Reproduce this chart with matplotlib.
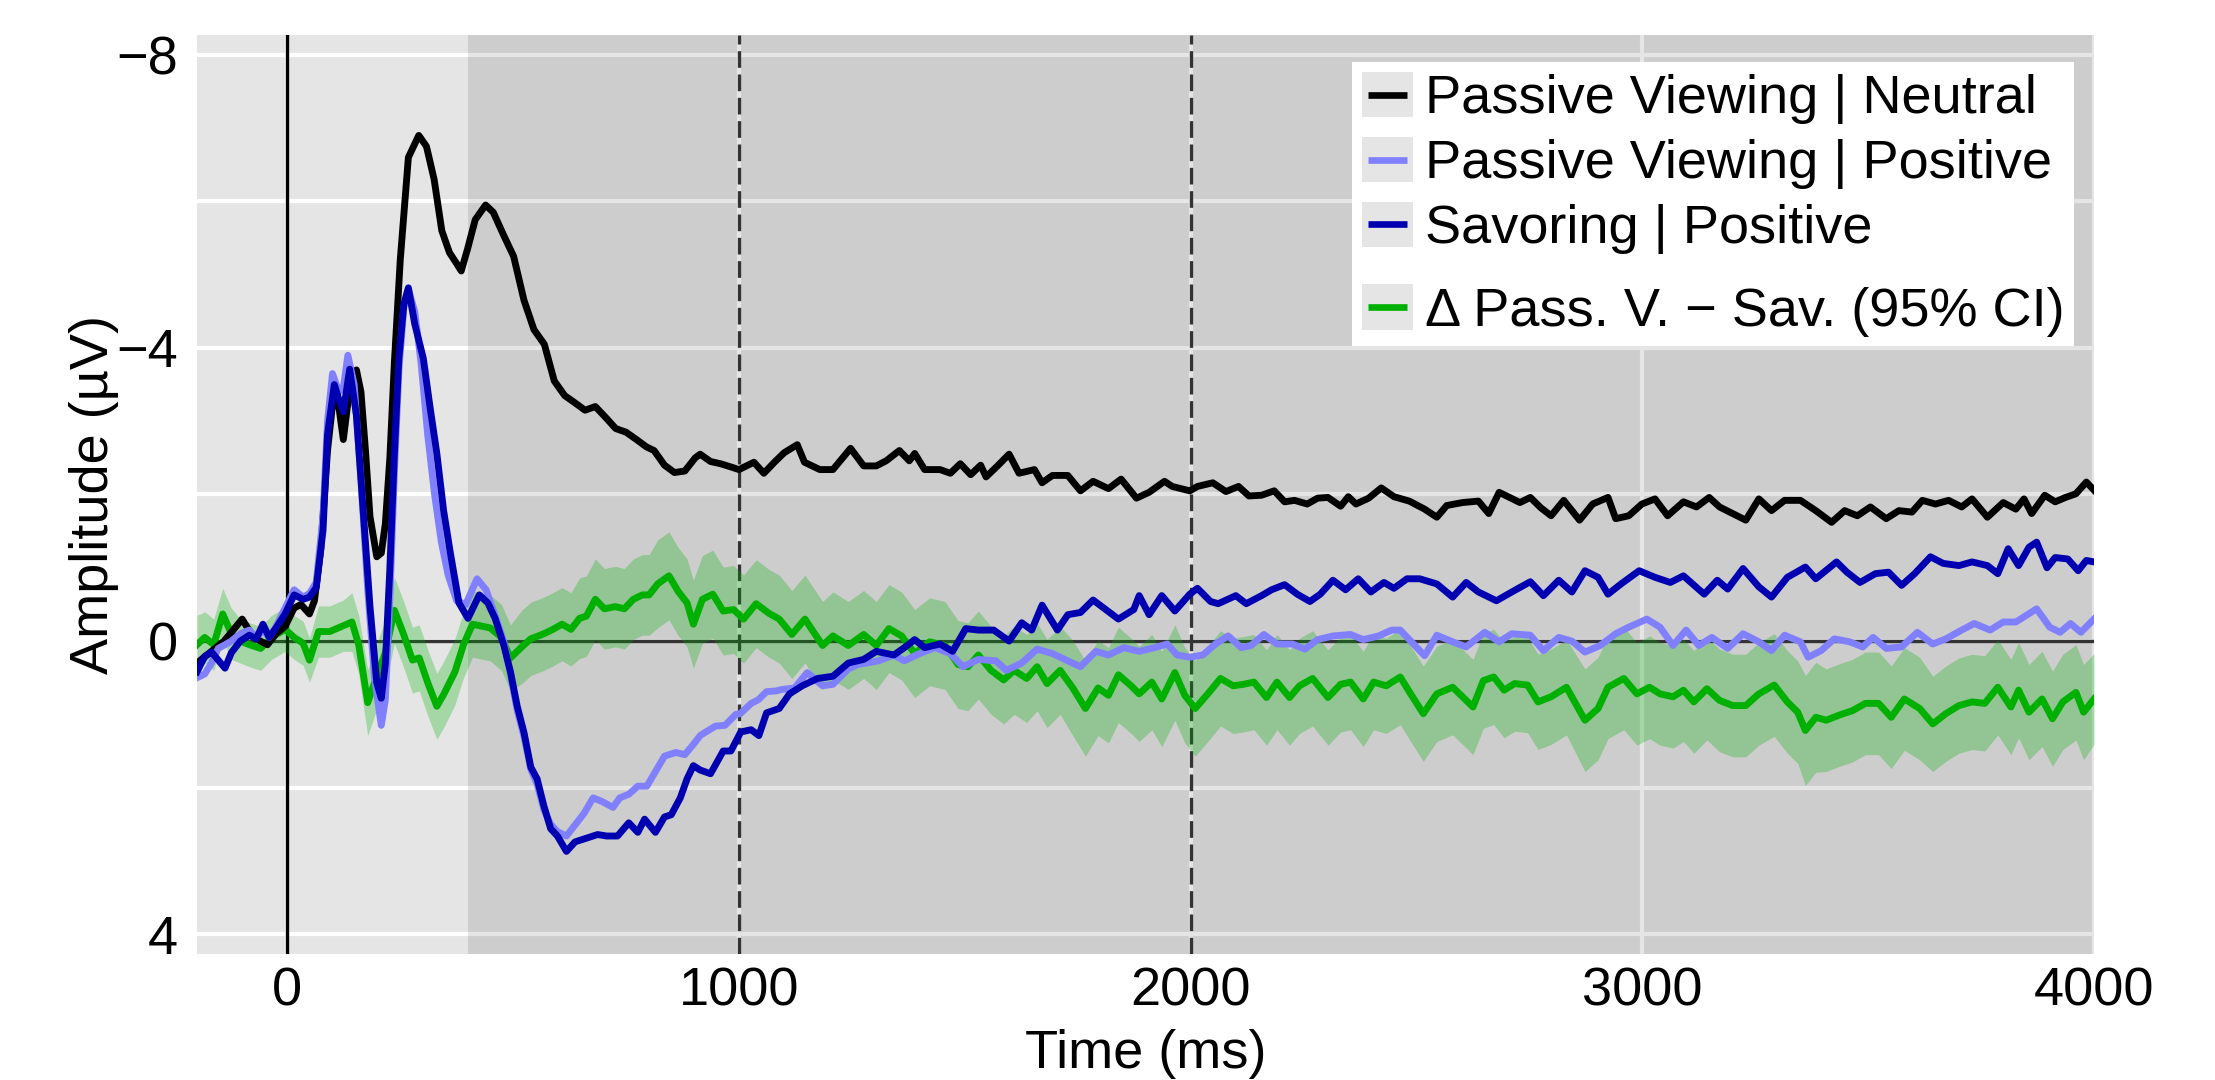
import numpy as np
import matplotlib
matplotlib.use("Agg")
import matplotlib.pyplot as plt
from matplotlib.lines import Line2D
from matplotlib.patches import Rectangle
from matplotlib.legend_handler import HandlerBase
from matplotlib.offsetbox import DrawingArea
from matplotlib.ticker import MultipleLocator

plt.rcParams['font.family'] = ['Liberation Sans', 'DejaVu Sans']
plt.rcParams['font.size'] = 13

# ---------------- data (time in ms, amplitude in microvolts) ----------------
pv_neutral = [
(-200,0.30),(-180,0.20),(-160,0.10),(-140,0.00),(-120,-0.15),(-100,-0.30),(-80,-0.10),(-60,0.00),(-44,0.05),(-25,-0.10),
(-5,-0.20),(15,-0.45),(30,-0.50),(49,-0.37),(60,-0.55),(74,-1.25),(89,-2.60),(104,-3.45),(114,-3.20),(124,-2.75),
(138,-3.45),(153,-3.70),(163,-3.40),(173,-2.60),(183,-1.70),(198,-1.15),(208,-1.20),(217,-1.60),(227,-2.50),(237,-3.80),
(250,-5.20),(268,-6.60),(291,-6.90),(308,-6.75),(325,-6.30),(342,-5.60),(359,-5.30),(375,-5.15),(385,-5.05),(399,-5.35),
(416,-5.75),(439,-5.95),(456,-5.85),(478,-5.55),(501,-5.25),(524,-4.65),(546,-4.25),(569,-4.05),(591,-3.55),(614,-3.35),
(637,-3.25),(659,-3.15),(682,-3.20),(705,-3.05),(727,-2.90),(750,-2.85),(773,-2.75),(795,-2.65),(812,-2.60),(835,-2.40),
(857,-2.30),(880,-2.32),(903,-2.50),(914,-2.55),(937,-2.45),(959,-2.42),(980,-2.38),(1000,-2.34),(1033,-2.44),(1055,-2.29),
(1080,-2.45),(1100,-2.57),(1129,-2.68),(1145,-2.44),(1179,-2.34),(1208,-2.34),(1247,-2.63),(1276,-2.39),(1304,-2.39),(1326,-2.46),
(1355,-2.60),(1377,-2.46),(1389,-2.56),(1411,-2.34),(1445,-2.34),(1468,-2.29),(1490,-2.42),(1513,-2.27),(1535,-2.40),(1547,-2.24),
(1569,-2.37),(1598,-2.55),(1620,-2.29),(1654,-2.34),(1671,-2.16),(1694,-2.26),(1728,-2.26),(1756,-2.05),(1784,-2.18),(1818,-2.08),
(1846,-2.21),(1880,-1.95),(1908,-2.03),(1942,-2.18),(1959,-2.11),(1998,-2.05),(2015,-2.11),(2049,-2.16),(2078,-2.04),(2106,-2.11),
(2129,-1.98),(2157,-1.99),(2185,-2.05),(2208,-1.90),(2230,-1.92),(2258,-1.87),(2281,-1.95),(2304,-1.96),(2332,-1.84),(2349,-1.97),
(2366,-1.87),(2394,-1.95),(2422,-2.09),(2450,-1.97),(2484,-1.91),(2518,-1.80),(2545,-1.69),(2567,-1.85),(2602,-1.89),(2637,-1.91),
(2660,-1.74),(2683,-2.03),(2706,-1.96),(2729,-1.89),(2752,-1.96),(2775,-1.82),(2798,-1.71),(2826,-1.92),(2861,-1.65),(2890,-1.87),
(2924,-1.96),(2941,-1.67),(2970,-1.71),(2999,-1.87),(3028,-1.94),(3056,-1.71),(3091,-1.90),(3120,-1.83),(3148,-1.96),(3171,-1.83),
(3200,-1.74),(3229,-1.65),(3258,-1.94),(3286,-1.78),(3315,-1.92),(3350,-1.92),(3384,-1.78),(3419,-1.62),(3448,-1.78),(3476,-1.71),
(3505,-1.83),(3540,-1.67),(3568,-1.78),(3597,-1.76),(3620,-1.92),(3649,-1.87),(3678,-1.92),(3707,-1.83),(3730,-1.94),(3764,-1.69),
(3799,-1.89),(3827,-1.80),(3845,-1.94),(3862,-1.74),(3891,-1.99),(3914,-1.90),(3937,-1.96),(3960,-2.01),(3983,-2.17),(4000,-2.06)]

pv_positive = [
(-200,0.50),(-183,0.45),(-168,0.30),(-153,0.10),(-138,0.05),(-124,0.00),(-104,-0.10),(-84,-0.15),(-69,-0.05),(-54,-0.15),
(-40,-0.05),(-25,-0.20),(-5,-0.45),(15,-0.70),(35,-0.60),(49,-0.65),(64,-0.80),(79,-1.70),(89,-3.00),(100,-3.65),
(114,-3.40),(124,-3.45),(134,-3.90),(148,-3.50),(163,-2.20),(178,-0.70),(193,0.50),(208,1.15),(217,0.80),(227,-0.60),
(237,-2.30),(247,-3.70),(258,-4.55),(268,-4.80),(282,-4.50),(296,-3.80),(311,-2.80),(326,-2.00),(341,-1.35),(356,-0.90),
(375,-0.55),(395,-0.50),(420,-0.85),(440,-0.70),(460,-0.35),(479,0.00),(494,0.45),(509,0.95),(524,1.30),(539,1.75),
(553,1.95),(568,2.30),(583,2.50),(598,2.60),(618,2.66),(637,2.51),(657,2.35),(677,2.14),(697,2.19),(721,2.27),
(736,2.14),(756,2.09),(776,1.98),(796,1.98),(815,1.78),(835,1.57),(860,1.52),(880,1.55),(899,1.41),(914,1.29),
(924,1.25),(948,1.16),(969,1.15),(993,1.00),(1003,0.99),(1027,0.85),(1043,0.80),(1061,0.69),(1082,0.68),(1095,0.66),
(1123,0.64),(1151,0.43),(1185,0.61),(1208,0.59),(1242,0.38),(1264,0.32),(1309,0.27),(1343,0.19),(1366,0.27),(1400,0.17),
(1434,0.09),(1468,0.17),(1496,0.35),(1530,0.25),(1569,0.27),(1592,0.40),(1626,0.30),(1660,0.11),(1694,0.17),(1728,0.27),
(1756,0.35),(1790,0.14),(1818,0.19),(1852,0.09),(1886,0.14),(1920,0.09),(1948,0.04),(1970,0.19),(1998,0.22),(2027,0.19),
(2055,0.04),(2083,-0.07),(2112,0.09),(2134,0.06),(2162,-0.09),(2191,0.04),(2225,0.04),(2253,0.11),(2281,-0.02),(2315,-0.07),
(2354,-0.09),(2382,-0.02),(2416,-0.07),(2445,-0.15),(2464,-0.15),(2487,0.00),(2518,0.20),(2545,-0.08),(2580,0.01),(2610,0.08),
(2651,-0.12),(2683,0.01),(2711,-0.10),(2752,-0.08),(2781,0.13),(2815,-0.05),(2844,0.00),(2873,0.15),(2907,0.06),(2941,-0.10),
(2970,-0.19),(3010,-0.30),(3039,-0.19),(3068,0.06),(3097,-0.15),(3125,0.06),(3154,-0.05),(3189,0.10),(3223,-0.10),(3258,0.01),
(3286,0.13),(3315,-0.08),(3350,0.01),(3367,0.22),(3396,0.13),(3425,-0.03),(3459,0.01),(3488,0.08),(3511,-0.05),(3540,0.10),
(3574,0.08),(3609,-0.12),(3643,0.04),(3672,-0.03),(3707,-0.15),(3735,-0.24),(3770,-0.15),(3799,-0.26),(3827,-0.26),(3850,-0.35),
(3873,-0.44),(3902,-0.19),(3925,-0.12),(3948,-0.24),(3971,-0.12),(4000,-0.30)]

sav_positive = [
(-200,0.42),(-183,0.21),(-168,0.15),(-153,0.26),(-138,0.37),(-124,0.16),(-104,0.00),(-84,-0.08),(-69,-0.03),(-54,-0.23),
(-40,-0.05),(-25,-0.18),(-5,-0.37),(15,-0.63),(35,-0.57),(49,-0.60),(64,-0.73),(79,-1.51),(89,-2.82),(104,-3.50),
(114,-3.30),(124,-3.13),(138,-3.71),(153,-3.08),(168,-1.78),(183,-0.47),(198,0.57),(208,0.78),(217,0.31),(227,-0.99),
(237,-2.56),(247,-3.86),(258,-4.60),(268,-4.82),(282,-4.33),(301,-3.86),(316,-3.19),(331,-2.56),(346,-1.78),(361,-1.20),
(380,-0.52),(400,-0.31),(425,-0.63),(444,-0.52),(460,-0.31),(479,0.05),(494,0.42),(509,0.89),(524,1.25),(539,1.72),
(553,1.88),(568,2.25),(583,2.56),(598,2.66),(618,2.87),(637,2.74),(662,2.69),(687,2.64),(707,2.66),(731,2.66),
(756,2.48),(776,2.61),(791,2.43),(815,2.61),(835,2.40),(850,2.37),(870,2.14),(885,1.88),(899,1.70),(914,1.76),
(937,1.81),(965,1.50),(982,1.50),(1004,1.24),(1027,1.21),(1044,1.29),(1061,0.98),(1089,0.92),(1112,0.72),(1140,0.61),
(1174,0.51),(1208,0.48),(1242,0.30),(1276,0.25),(1304,0.14),(1343,0.19),(1366,0.09),(1389,-0.02),(1411,0.09),(1445,0.04),
(1473,0.14),(1502,-0.17),(1530,-0.15),(1564,-0.15),(1598,0.00),(1626,-0.25),(1648,-0.15),(1671,-0.49),(1705,-0.15),(1728,-0.36),
(1756,-0.39),(1784,-0.56),(1812,-0.43),(1840,-0.30),(1874,-0.43),(1886,-0.62),(1908,-0.36),(1936,-0.62),(1965,-0.41),(1998,-0.64),
(2015,-0.72),(2044,-0.54),(2061,-0.51),(2100,-0.62),(2123,-0.51),(2157,-0.62),(2179,-0.70),(2208,-0.77),(2236,-0.64),(2264,-0.54),
(2287,-0.64),(2315,-0.83),(2343,-0.70),(2371,-0.85),(2399,-0.67),(2428,-0.80),(2450,-0.72),(2479,-0.85),(2507,-0.85),(2545,-0.78),
(2580,-0.60),(2610,-0.80),(2637,-0.67),(2677,-0.55),(2711,-0.67),(2752,-0.81),(2781,-0.62),(2815,-0.83),(2844,-0.67),(2873,-0.96),
(2902,-0.87),(2924,-0.64),(2953,-0.78),(2993,-0.96),(3028,-0.87),(3062,-0.80),(3091,-0.89),(3137,-0.64),(3166,-0.83),(3189,-0.71),
(3223,-0.99),(3258,-0.74),(3286,-0.60),(3321,-0.87),(3361,-1.01),(3384,-0.85),(3430,-1.08),(3453,-0.94),(3482,-0.80),(3516,-0.92),
(3545,-0.94),(3574,-0.76),(3603,-0.92),(3638,-1.15),(3666,-1.06),(3701,-1.03),(3730,-1.08),(3764,-1.03),(3787,-0.92),(3810,-1.26),
(3833,-1.03),(3856,-1.28),(3873,-1.35),(3896,-1.00),(3914,-1.14),(3942,-1.12),(3965,-0.96),(3983,-1.10),(4000,-1.08)]

# difference wave: (time, mean, half-width of the 95% CI)
diff_ci = [
(-200,0.05,0.40),(-183,-0.05,0.35),(-163,0.05,0.35),(-143,-0.37,0.35),(-124,-0.10,0.35),(-104,0.00,0.30),(-84,0.05,0.30),
(-59,0.10,0.30),(-35,-0.05,0.30),(-5,-0.16,0.30),(15,-0.05,0.30),(35,0.03,0.30),(49,0.26,0.30),(69,-0.13,0.35),
(94,-0.13,0.35),(124,-0.21,0.35),(143,-0.26,0.40),(158,0.05,0.40),(178,0.84,0.45),(193,0.57,0.45),(217,0.16,0.45),
(237,-0.42,0.45),(257,-0.10,0.45),(277,0.26,0.45),(292,0.23,0.45),(311,0.57,0.45),(331,0.89,0.45),(346,0.73,0.45),
(371,0.42,0.45),(390,0.05,0.45),(410,-0.23,0.45),(449,-0.18,0.45),(474,-0.05,0.45),(494,0.23,0.45),(519,0.08,0.50),
(539,-0.03,0.50),(568,-0.10,0.50),(588,-0.16,0.50),(608,-0.23,0.50),(628,-0.16,0.50),(647,-0.31,0.55),(662,-0.34,0.55),
(682,-0.57,0.55),(702,-0.44,0.55),(726,-0.47,0.55),(746,-0.44,0.55),(766,-0.57,0.55),(786,-0.63,0.55),(801,-0.63,0.55),
(820,-0.78,0.60),(845,-0.89,0.60),(865,-0.68,0.60),(885,-0.52,0.60),(899,-0.23,0.60),(919,-0.57,0.60),(942,-0.64,0.60),
(965,-0.41,0.60),(988,-0.43,0.60),(1010,-0.30,0.60),(1038,-0.51,0.60),(1066,-0.38,0.60),(1089,-0.30,0.60),(1117,-0.09,0.60),
(1146,-0.30,0.60),(1185,0.06,0.60),(1208,-0.07,0.60),(1242,0.06,0.60),(1276,-0.09,0.60),(1304,0.06,0.60),(1332,-0.17,0.60),
(1360,-0.07,0.60),(1389,0.17,0.60),(1422,0.01,0.60),(1456,0.06,0.60),(1485,0.32,0.60),(1507,0.35,0.60),(1530,0.19,0.60),
(1558,0.40,0.60),(1586,0.53,0.60),(1609,0.40,0.60),(1637,0.51,0.60),(1660,0.35,0.60),(1682,0.58,0.60),(1711,0.40,0.60),
(1739,0.64,0.65),(1767,0.92,0.65),(1795,0.64,0.65),(1818,0.74,0.65),(1840,0.46,0.65),(1868,0.61,0.65),(1886,0.72,0.65),
(1914,0.56,0.65),(1936,0.79,0.65),(1965,0.43,0.65),(1987,0.74,0.65),(2010,0.92,0.65),(2038,0.72,0.65),(2066,0.51,0.65),
(2094,0.61,0.65),(2117,0.59,0.65),(2140,0.56,0.65),(2168,0.77,0.65),(2191,0.56,0.65),(2219,0.77,0.65),(2241,0.61,0.65),
(2270,0.51,0.65),(2304,0.77,0.65),(2332,0.59,0.65),(2354,0.56,0.65),(2382,0.79,0.65),(2405,0.56,0.65),(2433,0.61,0.65),
(2464,0.49,0.65),(2487,0.72,0.65),(2515,0.99,0.65),(2545,0.72,0.65),(2580,0.63,0.65),(2602,0.76,0.65),(2625,0.90,0.65),
(2648,0.54,0.65),(2671,0.49,0.65),(2694,0.67,0.65),(2717,0.58,0.65),(2746,0.60,0.65),(2769,0.83,0.65),(2798,0.76,0.65),
(2832,0.63,0.65),(2873,1.08,0.70),(2902,0.92,0.70),(2924,0.63,0.70),(2959,0.51,0.70),(2988,0.72,0.70),(3016,0.63,0.70),
(3039,0.72,0.70),(3068,0.76,0.70),(3091,0.67,0.70),(3114,0.83,0.70),(3143,0.65,0.70),(3171,0.81,0.70),(3200,0.88,0.70),
(3229,0.88,0.70),(3258,0.72,0.70),(3292,0.60,0.70),(3321,0.83,0.70),(3344,0.97,0.70),(3361,1.22,0.75),(3384,1.04,0.75),
(3407,1.08,0.70),(3436,1.01,0.70),(3465,0.95,0.70),(3494,0.85,0.70),(3523,0.85,0.70),(3551,1.04,0.70),(3580,0.79,0.70),
(3614,0.92,0.70),(3643,1.13,0.65),(3672,0.99,0.65),(3701,0.88,0.65),(3730,0.83,0.65),(3758,0.85,0.65),(3787,0.63,0.65),
(3816,0.90,0.65),(3833,0.67,0.65),(3856,0.97,0.65),(3885,0.79,0.65),(3908,1.06,0.65),(3931,0.83,0.65),(3960,0.70,0.65),
(3977,0.97,0.65),(4000,0.79,0.62)]

labels = ["Passive Viewing | Neutral", "Passive Viewing | Positive",
          "Savoring | Positive", "\u0394 Pass. V. \u2212 Sav. (95% CI)"]
colors = ["#000000", "#8080ff", "#0000b0", "#00b000"]
xticks = [0, 1000, 2000, 3000, 4000]
yticks = [-8, -4, 0, 4]
markers_ms = [1000, 2000]

# ---------------- figure ----------------
W, H, DPI = 2215, 1080, 300
LW = 1.65
fig = plt.figure(figsize=(W / DPI, H / DPI), dpi=DPI, facecolor="white")
ax = fig.add_axes([197 / W, 1 - 954 / H, (2094 - 197) / W, (954 - 35) / H])
ax.set_facecolor("#e5e5e5")
for s in ax.spines.values():
    s.set_visible(False)

ax.set_xlim(-200, 4000)
ax.set_ylim(4.27, -8.27)
ax.set_xticks(xticks)
ax.set_yticks(yticks)
ax.yaxis.set_minor_locator(MultipleLocator(2))
ax.set_axisbelow(True)
ax.grid(True, which="both", color="white", lw=1.0)
ax.tick_params(which="both", length=0)
ax.tick_params(axis="y", pad=4.5)
ax.tick_params(axis="x", pad=3)

ax.axvspan(400, 4000, color="black", alpha=0.10, lw=0, zorder=1)
ax.axhline(0, color="#333333", lw=0.8, zorder=2)
ax.axvline(0, color="black", lw=0.8, zorder=2)
for m in markers_ms:
    ax.axvline(m, color="#333333", lw=0.8, dashes=(5, 2), zorder=2)

d = np.array(diff_ci)
ax.fill_between(d[:, 0], d[:, 1] - d[:, 2], d[:, 1] + d[:, 2], color=colors[3],
                alpha=0.28, lw=0, zorder=3)
hd, = ax.plot(d[:, 0], d[:, 1], color=colors[3], lw=LW, zorder=4, solid_joinstyle="round")

handles = []
for series, c, z in [(pv_neutral, colors[0], 5), (pv_positive, colors[1], 6), (sav_positive, colors[2], 7)]:
    a = np.array(series)
    h, = ax.plot(a[:, 0], a[:, 1], color=c, lw=LW, zorder=z, solid_joinstyle="round")
    handles.append(h)

ax.set_xlabel("Time (ms)", labelpad=3)
ax.set_ylabel("Amplitude (\u00b5V)", labelpad=-0.5)


class KeyHandler(HandlerBase):
    def create_artists(self, legend, orig_handle, xdescent, ydescent, width, height, fontsize, trans):
        r = Rectangle((-xdescent, -ydescent), width, height, facecolor="#e5e5e5",
                      edgecolor="none", transform=trans)
        y = height / 2 - ydescent
        ln = Line2D([-xdescent + 0.12 * width, -xdescent + 0.88 * width], [y, y],
                    color=orig_handle.get_color(), lw=1.6, solid_capstyle="butt", transform=trans)
        return [r, ln]


class BlankHandler(HandlerBase):
    def create_artists(self, legend, orig_handle, xdescent, ydescent, width, height, fontsize, trans):
        ln = Line2D([0, 0], [0, 0], alpha=0, transform=trans)
        return [ln]


blank = Line2D([], [], alpha=0)
leg_handles = handles + [blank, hd]
leg_labels = [labels[0], labels[1], labels[2], "", labels[3]]
hmap = {h: KeyHandler() for h in handles + [hd]}
hmap[blank] = BlankHandler()
leg = ax.legend(leg_handles, leg_labels, loc="upper right",
                bbox_to_anchor=((2074 - 197) / 1897, (954 - 62) / 919), borderaxespad=0,
                frameon=True, fancybox=False, framealpha=1, facecolor="white", edgecolor="none",
                borderpad=0.18, labelspacing=0.23, handlelength=0.94, handleheight=0.92,
                handletextpad=0.22, handler_map=hmap, fontsize=13)
leg.set_zorder(10)
try:
    col = leg._legend_handle_box.get_children()[0]
    rows = col.get_children()
    da, ta = rows[3].get_children()
    da.height = 0
    da.ydescent = 0
    ta._text.set_fontsize(1.4)
    # extra right padding inside the legend box, as in the original
    spacer = DrawingArea(0.1, 0.1)
    spacer.set_figure(fig)
    rows[1]._children.append(spacer)
except Exception:
    pass

fig.savefig("out.png", dpi=DPI, facecolor="white")
